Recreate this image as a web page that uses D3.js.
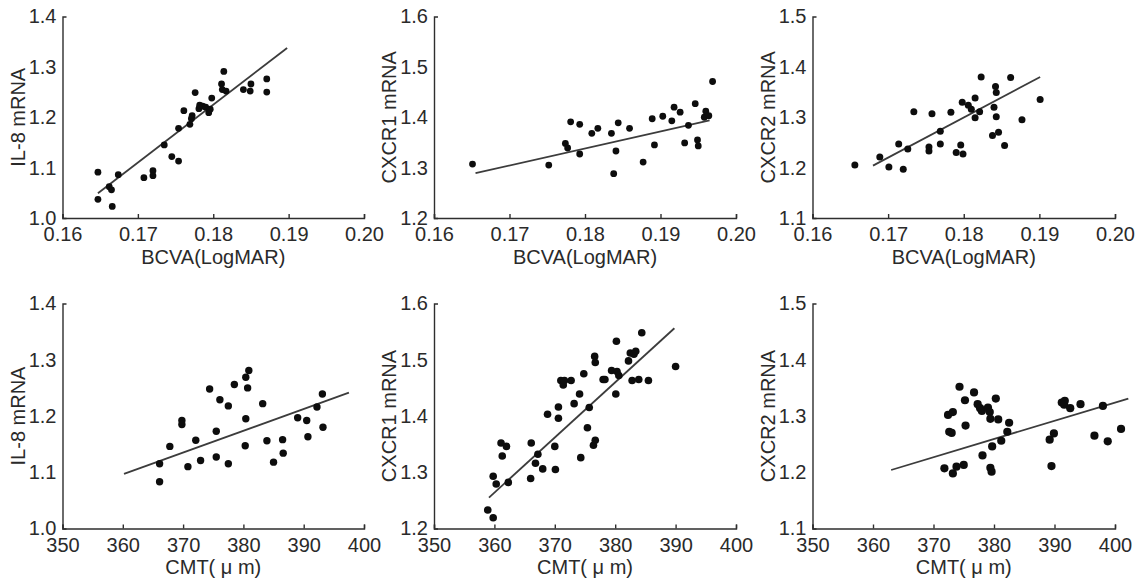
<!DOCTYPE html>
<html>
<head>
<meta charset="utf-8">
<script src="https://cdn.jsdelivr.net/npm/d3@7"></script>
<style>
  html, body { margin: 0; padding: 0; background: #fff; }
  svg { display: block; }
  text { font-family: "Liberation Sans", Arial, sans-serif; fill: #2a2a2a; }
</style>
</head>
<body>
<svg id="chart" width="1135" height="579"></svg>
<script>
// ---------- data ----------
const bcvaTicks = [0.16, 0.17, 0.18, 0.19, 0.20];
const cmtTicks = [350, 360, 370, 380, 390, 400];
const il8Ticks = [1.0, 1.1, 1.2, 1.3, 1.4];
const cxcr1TopTicks = [1.2, 1.3, 1.4, 1.5, 1.6];
const cxcr2Ticks = [1.1, 1.2, 1.3, 1.4, 1.5];
const cxcr1BottomTicks = [1.2, 1.3, 1.4, 1.5, 1.6];

const yLabels = ["IL-8 mRNA", "CXCR1 mRNA", "CXCR2 mRNA"];
const xLabels = ["BCVA(LogMAR)", "CMT( \u03bc m)"];

// Panel A: BCVA vs IL-8
const bcvaIl8X = [0.1647,0.1647,0.1662,0.1665,0.1666,0.1674,0.1708,0.1720,0.1720,0.1735,0.1745,0.1754,0.1754,0.1761,0.1769,0.1771,0.1772,0.1776,0.1781,0.1782,0.1786,0.1790,0.1794,0.1796,0.1798,0.1811,0.1814,0.1812,0.1817,0.1840,0.1849,0.1850,0.1871,0.1871];
const bcvaIl8Y = [1.091,1.037,1.062,1.056,1.023,1.086,1.080,1.094,1.084,1.145,1.122,1.113,1.178,1.213,1.186,1.197,1.203,1.249,1.217,1.224,1.222,1.220,1.209,1.216,1.238,1.266,1.291,1.255,1.252,1.255,1.252,1.266,1.276,1.250];
const bcvaIl8Fit = [[0.1647, 1.049], [0.1898, 1.3375]];

// Panel B: BCVA vs CXCR1
const bcvaCxcr1X = [0.1651,0.1752,0.1774,0.1777,0.1781,0.1793,0.1793,0.1809,0.1817,0.1835,0.1838,0.1841,0.1844,0.1859,0.1877,0.1889,0.1892,0.1903,0.1915,0.1918,0.1926,0.1932,0.1937,0.1946,0.1949,0.1950,0.1958,0.1960,0.1964,0.1969];
const bcvaCxcr1Y = [1.307,1.305,1.348,1.339,1.391,1.327,1.386,1.368,1.378,1.368,1.288,1.333,1.389,1.378,1.311,1.397,1.345,1.402,1.393,1.420,1.410,1.349,1.384,1.427,1.355,1.343,1.400,1.412,1.403,1.471];
const bcvaCxcr1Fit = [[0.1655, 1.289], [0.1965, 1.394]];

// Panel C: BCVA vs CXCR2
const bcvaCxcr2X = [0.1656,0.1689,0.1701,0.1714,0.1720,0.1726,0.1734,0.1754,0.1754,0.1758,0.1769,0.1769,0.1783,0.1790,0.1796,0.1799,0.1798,0.1806,0.1810,0.1815,0.1815,0.1821,0.1823,0.1838,0.1840,0.1842,0.1843,0.1843,0.1846,0.1854,0.1862,0.1877,0.1901];
const bcvaCxcr2Y = [1.205,1.221,1.201,1.247,1.197,1.237,1.311,1.241,1.233,1.307,1.272,1.247,1.310,1.230,1.245,1.227,1.330,1.324,1.316,1.338,1.299,1.311,1.380,1.264,1.320,1.361,1.349,1.301,1.270,1.244,1.379,1.295,1.335];
const bcvaCxcr2Fit = [[0.1680, 1.204], [0.1901, 1.380]];

// Panel D: CMT vs IL-8
const cmtIl8X = [366.1,366.1,367.8,369.8,369.8,370.8,372.1,372.9,374.4,375.5,375.5,376.1,377.5,377.5,378.5,380.4,380.9,380.7,380.4,380.3,383.2,383.9,385.0,386.5,386.6,389.0,390.5,390.7,392.2,393.1,393.2];
const cmtIl8Y = [1.115,1.083,1.146,1.192,1.185,1.110,1.157,1.121,1.248,1.127,1.173,1.229,1.218,1.115,1.256,1.269,1.281,1.250,1.195,1.147,1.222,1.156,1.118,1.158,1.134,1.197,1.192,1.163,1.216,1.239,1.180];
const cmtIl8Fit = [[360.2, 1.097], [397.5, 1.2415]];

// Panel E: CMT vs CXCR1
const cmtCxcr1X = [358.9,359.8,359.8,360.3,361.1,361.3,362.0,362.3,366.0,366.1,366.8,367.2,368.0,368.8,370.0,370.1,370.6,370.6,371.0,371.4,371.6,372.7,373.2,374.1,374.3,374.8,375.4,375.7,376.4,376.7,376.6,376.7,378.0,378.3,379.4,380.1,380.2,380.3,380.6,382.2,382.5,382.8,383.1,383.4,383.9,384.4,385.5,390.0];
const cmtCxcr1Y = [1.233,1.219,1.293,1.279,1.352,1.329,1.346,1.282,1.289,1.352,1.316,1.332,1.306,1.403,1.346,1.305,1.396,1.416,1.463,1.455,1.463,1.463,1.422,1.439,1.326,1.475,1.379,1.415,1.348,1.357,1.506,1.495,1.465,1.465,1.481,1.439,1.533,1.479,1.472,1.498,1.512,1.463,1.510,1.515,1.465,1.548,1.463,1.488];
const cmtCxcr1Fit = [[359.1, 1.255], [389.8, 1.556]];

// Panel F: CMT vs CXCR2
const cmtCxcr2X = [371.8,372.4,373.2,372.6,373.0,373.2,373.8,375.0,374.3,375.2,375.3,376.7,377.3,377.7,378.0,378.1,379.0,379.3,379.4,379.4,379.6,379.7,380.3,380.7,381.2,382.2,382.5,389.2,389.5,389.9,391.2,391.7,391.6,392.6,394.3,396.6,398.0,398.8,401.0];
const cmtCxcr2Y = [1.207,1.302,1.307,1.272,1.270,1.198,1.210,1.213,1.352,1.328,1.283,1.342,1.321,1.314,1.309,1.230,1.315,1.307,1.295,1.208,1.201,1.246,1.331,1.294,1.256,1.272,1.288,1.258,1.211,1.269,1.324,1.327,1.320,1.314,1.321,1.265,1.318,1.255,1.277];
const cmtCxcr2Fit = [[363.0, 1.204], [402.2, 1.331]];

// ---------- layout ----------
const colX = [[62.5, 364], [434, 736], [812.5, 1115]];
const rowY = [[16.5, 218], [303.5, 528.5]];

const panels = [
  { col: 0, row: 0, xs: bcvaIl8X, ys: bcvaIl8Y, fit: bcvaIl8Fit, xt: bcvaTicks, yt: il8Ticks, xf: ".2f", yl: yLabels[0], xl: xLabels[0], r: 3.4 },
  { col: 1, row: 0, xs: bcvaCxcr1X, ys: bcvaCxcr1Y, fit: bcvaCxcr1Fit, xt: bcvaTicks, yt: cxcr1TopTicks, xf: ".2f", yl: yLabels[1], xl: xLabels[0], r: 3.4 },
  { col: 2, row: 0, xs: bcvaCxcr2X, ys: bcvaCxcr2Y, fit: bcvaCxcr2Fit, xt: bcvaTicks, yt: cxcr2Ticks, xf: ".2f", yl: yLabels[2], xl: xLabels[0], r: 3.5 },
  { col: 0, row: 1, xs: cmtIl8X, ys: cmtIl8Y, fit: cmtIl8Fit, xt: cmtTicks, yt: il8Ticks, xf: "d", yl: yLabels[0], xl: xLabels[1], r: 3.7 },
  { col: 1, row: 1, xs: cmtCxcr1X, ys: cmtCxcr1Y, fit: cmtCxcr1Fit, xt: cmtTicks, yt: cxcr1BottomTicks, xf: "d", yl: yLabels[1], xl: xLabels[1], r: 3.8 },
  { col: 2, row: 1, xs: cmtCxcr2X, ys: cmtCxcr2Y, fit: cmtCxcr2Fit, xt: cmtTicks, yt: cxcr2Ticks, xf: "d", yl: yLabels[2], xl: xLabels[1], r: 4.1 }
];

const svg = d3.select("#chart");
const axisColor = "#2e2e2e";

panels.forEach(p => {
  const [x0, x1] = colX[p.col];
  const [yTop, yBot] = rowY[p.row];
  const x = d3.scaleLinear().domain([p.xt[0], p.xt[p.xt.length - 1]]).range([x0, x1]);
  const y = d3.scaleLinear().domain([p.yt[0], p.yt[p.yt.length - 1]]).range([yBot, yTop]);
  const g = svg.append("g");

  // x axis
  const xa = g.append("g").attr("transform", `translate(0,${yBot})`)
    .call(d3.axisBottom(x).tickValues(p.xt).tickFormat(d3.format(p.xf)).tickSizeInner(-4).tickSizeOuter(-4).tickPadding(9));
  xa.selectAll("path, line").attr("stroke", axisColor).attr("stroke-width", 1.4);
  xa.selectAll("text").attr("font-size", 20).attr("fill", "#2a2a2a").attr("dy", "0.71em")
    .attr("font-family", "Liberation Sans, Arial, sans-serif");

  // y axis
  const ya = g.append("g").attr("transform", `translate(${x0},0)`)
    .call(d3.axisLeft(y).tickValues(p.yt).tickFormat(d3.format(".1f")).tickSizeInner(0).tickSizeOuter(-4).tickPadding(6));
  ya.selectAll("path, line").attr("stroke", axisColor).attr("stroke-width", 1.4);
  ya.selectAll("text").attr("font-size", 20).attr("fill", "#2a2a2a")
    .attr("font-family", "Liberation Sans, Arial, sans-serif");

  // axis titles
  g.append("text")
    .attr("x", (x0 + x1) / 2).attr("y", yBot + 45.5)
    .attr("text-anchor", "middle").attr("font-size", 20)
    .text(p.xl);
  g.append("text")
    .attr("transform", `translate(${x0 - 38},${(yTop + yBot) / 2}) rotate(-90)`)
    .attr("text-anchor", "middle").attr("font-size", 20)
    .text(p.yl);

  // fit line
  const line = d3.line().x(d => x(d[0])).y(d => y(d[1]));
  g.append("path").datum(p.fit).attr("d", line)
    .attr("fill", "none").attr("stroke", "#3c3c3c").attr("stroke-width", 1.8);

  // points
  const pts = p.xs.map((v, i) => [v, p.ys[i]]);
  g.append("g").selectAll("circle").data(pts).join("circle")
    .attr("cx", d => x(d[0])).attr("cy", d => y(d[1])).attr("r", p.r)
    .attr("fill", "#0d0d0d");
});
</script>
</body>
</html>
